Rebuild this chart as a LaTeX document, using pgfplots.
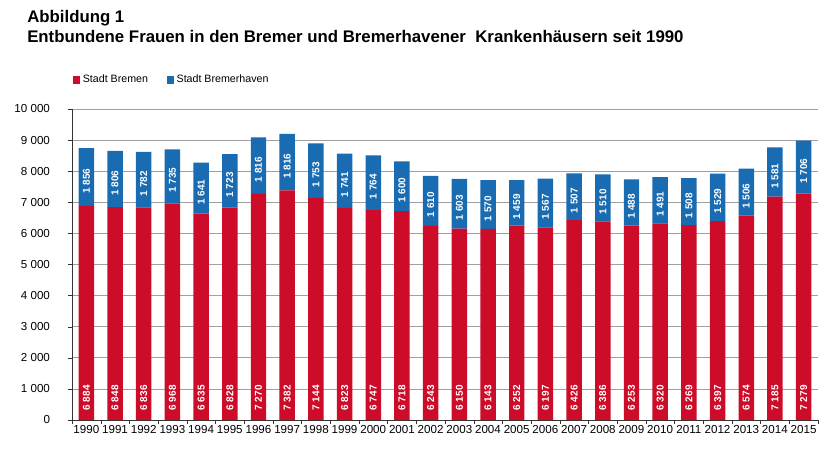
\documentclass[border=0pt]{standalone}
\usepackage{fontspec}
\setmainfont{Liberation Sans}
\usepackage{pgfplots}
\usepackage{pgfplotstable}
\pgfplotsset{compat=1.18}

\definecolor{brred}{RGB}{204,12,40}
\definecolor{brblue}{RGB}{26,108,178}
\definecolor{gridgray}{RGB}{160,160,160}

% Entbundene Frauen: Stadt Bremen / Stadt Bremerhaven
\pgfplotstableread{
year bremen bhv
1990 6884 1856
1991 6848 1806
1992 6836 1782
1993 6968 1735
1994 6635 1641
1995 6828 1723
1996 7270 1816
1997 7382 1816
1998 7144 1753
1999 6823 1741
2000 6747 1764
2001 6718 1600
2002 6243 1610
2003 6150 1603
2004 6143 1570
2005 6252 1459
2006 6197 1567
2007 6426 1507
2008 6386 1510
2009 6253 1488
2010 6320 1491
2011 6269 1508
2012 6397 1529
2013 6574 1506
2014 7185 1581
2015 7279 1706
}\births

\pgfplotsset{
  common/.style={
    at={(54pt,28.5pt)}, anchor=south west,
    scale only axis, width=559.5pt, height=233.25pt,
    xmin=1989.5, xmax=2015.5, ymin=0, ymax=10000,
  },
}
\tikzset{
  barlabel/.style={
    font=\fontsize{7.5}{8}\bfseries\selectfont, text=white,
  },
}

\begin{document}
\begin{tikzpicture}
\useasboundingbox (0,0) rectangle (630pt,343.5pt);

\node[anchor=base west, font=\fontsize{12.6}{14}\bfseries\selectfont, inner sep=0pt]
  at (20.25pt,326.25pt) {Abbildung 1};
\node[anchor=base west, font=\fontsize{12.6}{14}\bfseries\selectfont, inner sep=0pt]
  at (20.25pt,311.25pt) {Entbundene Frauen in den Bremer und Bremerhavener\ \ Krankenhäusern seit 1990};

\begin{axis}[
    common,
    ybar stacked, bar width=11.6pt,
    axis x line*=bottom, axis y line*=left,
    axis line style={black!80},
    tick align=outside,
    xtick={1990,...,2015},
    minor xtick={1989.5,1990.5,...,2015.5},
    every major x tick/.append style={draw=none},
    minor tick length=3pt, major tick length=3pt,
    tick style={black!80},
    ytick={0,1000,...,10000},
    scaled y ticks=false,
    ymajorgrids, grid style={gridgray, line width=0.6pt},
    /pgf/number format/assume math mode=true,
    /pgf/number format/1000 sep={\ },
    ticklabel style={font=\fontsize{8.7}{10}\selectfont},
    xticklabel style={/pgf/number format/1000 sep={}, inner sep=1pt},
    yticklabel style={xshift=-10pt},
    legend style={
      at={(axis description cs:0.001,1.093)}, anchor=west,
      draw=none, fill=none, inner sep=0pt,
      font=\fontsize{8}{9}\selectfont,
      /tikz/every even column/.append style={column sep=12pt},
    },
    legend columns=2,
    legend image code/.code={\fill[#1] (0pt,-2.7pt) rectangle (5.4pt,2.7pt);},
]
\addplot[fill=brred, draw=none] table[x=year, y=bremen] {\births};
\addplot[fill=brblue, draw=none] table[x=year, y=bhv] {\births};
\legend{Stadt Bremen, Stadt Bremerhaven}
\end{axis}

\begin{axis}[
    common, hide axis, clip=false,
    /pgf/number format/assume math mode=true,
    /pgf/number format/1000 sep={\ },
]
\addplot[draw=none, mark=none, nodes near coords, point meta=explicit,
  nodes near coords style={barlabel, rotate=90, anchor=west, inner xsep=7pt, inner ysep=0pt}]
  table[x=year, y expr=0, meta=bremen] {\births};
\addplot[draw=none, mark=none, nodes near coords, point meta=explicit,
  nodes near coords style={barlabel, yshift=-3pt, rotate=90, anchor=center, inner sep=0pt}]
  table[x=year, y expr=\thisrow{bremen}+0.5*\thisrow{bhv}, meta=bhv] {\births};
\end{axis}
\end{tikzpicture}
\end{document}
